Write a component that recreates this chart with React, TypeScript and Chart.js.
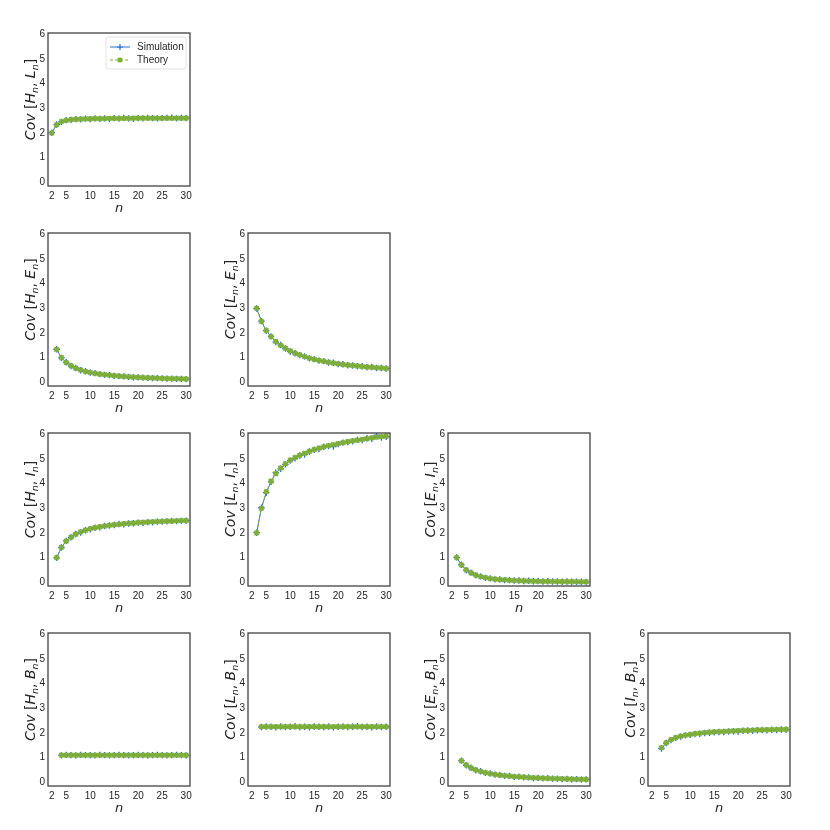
import React, { useEffect, useRef } from "react";
import { Chart, registerables } from "chart.js";

Chart.register(...registerables);

const SIM_COLOR = "#2c72d1";
const THEORY_COLOR = "#7fae36";
const TEXT_COLOR = "#262626";

const X_TICKS = [2, 5, 10, 15, 20, 25, 30];
const Y_TICKS = [0, 1, 2, 3, 4, 5, 6];

const nFrom2 = [2, 3, 4, 5, 6, 7, 8, 9, 10, 11, 12, 13, 14, 15, 16, 17, 18, 19, 20, 21, 22, 23, 24, 25, 26, 27, 28, 29, 30];
const nFrom3 = [3, 4, 5, 6, 7, 8, 9, 10, 11, 12, 13, 14, 15, 16, 17, 18, 19, 20, 21, 22, 23, 24, 25, 26, 27, 28, 29, 30];
const nFrom4 = [4, 5, 6, 7, 8, 9, 10, 11, 12, 13, 14, 15, 16, 17, 18, 19, 20, 21, 22, 23, 24, 25, 26, 27, 28, 29, 30];

// Cov[H, L]
const hlTheory = [2.0, 2.33, 2.46, 2.51, 2.54, 2.55, 2.56, 2.57, 2.57, 2.58, 2.58, 2.58, 2.59, 2.59, 2.59, 2.59, 2.59, 2.6, 2.6, 2.6, 2.6, 2.6, 2.6, 2.6, 2.6, 2.6, 2.6, 2.6, 2.6];
const hlSim = [2.01, 2.34, 2.45, 2.52, 2.53, 2.56, 2.55, 2.58, 2.56, 2.59, 2.57, 2.59, 2.56, 2.6, 2.58, 2.61, 2.59, 2.57, 2.6, 2.59, 2.61, 2.6, 2.59, 2.6, 2.61, 2.62, 2.59, 2.61, 2.6];
// Cov[H, E]
const heTheory = [1.33, 1.0, 0.8, 0.67, 0.57, 0.5, 0.44, 0.4, 0.36, 0.33, 0.31, 0.29, 0.27, 0.25, 0.235, 0.22, 0.21, 0.2, 0.19, 0.18, 0.174, 0.167, 0.16, 0.154, 0.148, 0.143, 0.138, 0.133];
const heSim = [1.34, 0.99, 0.81, 0.66, 0.58, 0.49, 0.45, 0.39, 0.37, 0.33, 0.3, 0.29, 0.26, 0.25, 0.24, 0.22, 0.2, 0.2, 0.19, 0.18, 0.17, 0.17, 0.16, 0.15, 0.15, 0.14, 0.14, 0.13];
// Cov[L, E]
const leTheory = [3.0, 2.47, 2.1, 1.85, 1.65, 1.5, 1.38, 1.27, 1.18, 1.11, 1.04, 0.98, 0.93, 0.89, 0.85, 0.81, 0.78, 0.75, 0.72, 0.7, 0.68, 0.66, 0.64, 0.62, 0.61, 0.59, 0.58, 0.56];
const leSim = [2.99, 2.48, 2.09, 1.86, 1.63, 1.51, 1.37, 1.25, 1.18, 1.1, 1.05, 0.97, 0.94, 0.88, 0.86, 0.8, 0.79, 0.74, 0.73, 0.69, 0.68, 0.65, 0.65, 0.61, 0.62, 0.58, 0.58, 0.56];
// Cov[H, I]
const hiTheory = [1.0, 1.42, 1.67, 1.83, 1.95, 2.04, 2.11, 2.17, 2.21, 2.25, 2.28, 2.31, 2.33, 2.35, 2.37, 2.39, 2.4, 2.42, 2.43, 2.44, 2.45, 2.46, 2.47, 2.48, 2.48, 2.49, 2.5, 2.5];
const hiSim = [0.99, 1.41, 1.68, 1.82, 1.96, 2.02, 2.11, 2.15, 2.21, 2.23, 2.28, 2.3, 2.32, 2.36, 2.35, 2.38, 2.39, 2.42, 2.41, 2.44, 2.43, 2.46, 2.46, 2.47, 2.49, 2.48, 2.49, 2.5];
// Cov[L, I]
const liTheory = [2.0, 3.0, 3.67, 4.1, 4.4, 4.63, 4.8, 4.95, 5.06, 5.15, 5.23, 5.31, 5.38, 5.44, 5.49, 5.54, 5.58, 5.62, 5.66, 5.7, 5.73, 5.76, 5.79, 5.82, 5.85, 5.88, 5.9, 5.92];
const liSim = [2.01, 3.02, 3.63, 4.07, 4.44, 4.6, 4.78, 4.93, 5.02, 5.14, 5.18, 5.3, 5.37, 5.4, 5.49, 5.52, 5.5, 5.6, 5.66, 5.68, 5.71, 5.77, 5.76, 5.84, 5.82, 5.96, 5.87, 5.9];
// Cov[E, I]
const eiTheory = [1.0, 0.7, 0.5, 0.38, 0.29, 0.23, 0.19, 0.15, 0.13, 0.11, 0.1, 0.085, 0.075, 0.066, 0.058, 0.052, 0.047, 0.042, 0.038, 0.035, 0.032, 0.029, 0.027, 0.025, 0.023, 0.021, 0.02, 0.018];
const eiSim = [1.01, 0.71, 0.49, 0.39, 0.28, 0.24, 0.18, 0.16, 0.12, 0.12, 0.09, 0.09, 0.07, 0.07, 0.05, 0.06, 0.04, 0.05, 0.03, 0.04, 0.03, 0.03, 0.02, 0.03, 0.02, 0.02, 0.02, 0.01];
// Cov[H, B]
const hbTheory = [1.1, 1.1, 1.1, 1.1, 1.1, 1.1, 1.1, 1.1, 1.1, 1.1, 1.1, 1.1, 1.1, 1.1, 1.1, 1.1, 1.1, 1.1, 1.1, 1.1, 1.1, 1.1, 1.1, 1.1, 1.1, 1.1, 1.1];
const hbSim = [1.09, 1.11, 1.1, 1.09, 1.11, 1.1, 1.1, 1.09, 1.11, 1.1, 1.09, 1.1, 1.11, 1.1, 1.09, 1.1, 1.11, 1.1, 1.09, 1.1, 1.11, 1.1, 1.09, 1.1, 1.11, 1.1, 1.09];
// Cov[L, B]
const lbTheory = [2.25, 2.25, 2.25, 2.25, 2.25, 2.25, 2.25, 2.25, 2.25, 2.25, 2.25, 2.25, 2.25, 2.25, 2.25, 2.25, 2.25, 2.25, 2.25, 2.25, 2.25, 2.25, 2.25, 2.25, 2.25, 2.25, 2.25];
const lbSim = [2.24, 2.26, 2.25, 2.23, 2.26, 2.24, 2.25, 2.27, 2.24, 2.25, 2.23, 2.26, 2.25, 2.24, 2.26, 2.23, 2.25, 2.26, 2.24, 2.25, 2.27, 2.24, 2.25, 2.23, 2.26, 2.24, 2.25];
// Cov[E, B]
const ebTheory = [0.87, 0.7, 0.58, 0.5, 0.44, 0.39, 0.35, 0.32, 0.29, 0.27, 0.25, 0.23, 0.22, 0.21, 0.19, 0.18, 0.175, 0.167, 0.16, 0.152, 0.146, 0.14, 0.135, 0.13, 0.125, 0.12, 0.117];
const ebSim = [0.88, 0.69, 0.59, 0.49, 0.45, 0.38, 0.36, 0.31, 0.3, 0.26, 0.26, 0.22, 0.23, 0.2, 0.2, 0.17, 0.18, 0.16, 0.17, 0.15, 0.15, 0.13, 0.14, 0.12, 0.13, 0.11, 0.12];
// Cov[I, B]
const ibTheory = [1.4, 1.6, 1.73, 1.81, 1.87, 1.91, 1.94, 1.97, 1.99, 2.01, 2.03, 2.04, 2.05, 2.06, 2.07, 2.08, 2.09, 2.1, 2.1, 2.11, 2.12, 2.12, 2.13, 2.13, 2.14, 2.14, 2.15];
const ibSim = [1.37, 1.59, 1.71, 1.8, 1.85, 1.9, 1.92, 1.96, 1.97, 2.0, 2.01, 2.03, 2.04, 2.04, 2.06, 2.07, 2.06, 2.09, 2.1, 2.09, 2.11, 2.12, 2.11, 2.13, 2.12, 2.14, 2.13];

type PanelDef = {
  row: number;
  col: number;
  a: string;
  b: string;
  n: number[];
  sim: number[];
  theory: number[];
  legend?: boolean;
};

const PANELS: PanelDef[] = [
  { row: 0, col: 0, a: "H", b: "L", n: nFrom2, sim: hlSim, theory: hlTheory, legend: true },
  { row: 1, col: 0, a: "H", b: "E", n: nFrom3, sim: heSim, theory: heTheory },
  { row: 1, col: 1, a: "L", b: "E", n: nFrom3, sim: leSim, theory: leTheory },
  { row: 2, col: 0, a: "H", b: "I", n: nFrom3, sim: hiSim, theory: hiTheory },
  { row: 2, col: 1, a: "L", b: "I", n: nFrom3, sim: liSim, theory: liTheory },
  { row: 2, col: 2, a: "E", b: "I", n: nFrom3, sim: eiSim, theory: eiTheory },
  { row: 3, col: 0, a: "H", b: "B", n: nFrom4, sim: hbSim, theory: hbTheory },
  { row: 3, col: 1, a: "L", b: "B", n: nFrom4, sim: lbSim, theory: lbTheory },
  { row: 3, col: 2, a: "E", b: "B", n: nFrom4, sim: ebSim, theory: ebTheory },
  { row: 3, col: 3, a: "I", b: "B", n: nFrom4, sim: ibSim, theory: ibTheory },
];

const TICK_FONT = { family: '"Liberation Sans", Arial, sans-serif', size: 10 };
const MATH_FONT = '"DejaVu Sans", sans-serif';

const framePlugin = {
  id: "frame",
  afterDatasetsDraw(chart: any) {
    const { ctx, chartArea } = chart;
    ctx.save();
    ctx.strokeStyle = "#3a3a3a";
    ctx.lineWidth = 1.25;
    ctx.strokeRect(chartArea.left, chartArea.top, chartArea.right - chartArea.left, chartArea.bottom - chartArea.top);
    ctx.restore();
  },
};

// y-axis label "Cov [A_n, B_n]" drawn with real subscripts, rotated
const yLabelPlugin = {
  id: "yLabel",
  afterDraw(chart: any) {
    const opts = chart.options.plugins.yLabel;
    if (!opts) return;
    const { ctx, chartArea } = chart;
    const big = `italic 14px ${MATH_FONT}`;
    const up = `14px ${MATH_FONT}`;
    const sub = `italic 9.5px ${MATH_FONT}`;
    const parts = [
      { t: "Cov", f: big, dy: 0 },
      { t: " ", f: up, dy: 0 },
      { t: "[", f: up, dy: 0 },
      { t: opts.a, f: big, dy: 0 },
      { t: "n", f: sub, dy: 2.5 },
      { t: ",", f: up, dy: 0 },
      { t: " ", f: up, dy: 0 },
      { t: opts.b, f: big, dy: 0 },
      { t: "n", f: sub, dy: 2.5 },
      { t: "]", f: up, dy: 0 },
    ];
    ctx.save();
    ctx.fillStyle = TEXT_COLOR;
    ctx.textBaseline = "alphabetic";
    ctx.textAlign = "left";
    let total = 0;
    const widths = parts.map((p) => {
      ctx.font = p.f;
      const w = ctx.measureText(p.t).width;
      total += w;
      return w;
    });
    const cy = (chartArea.top + chartArea.bottom) / 2 - 10;
    ctx.translate(31, cy);
    ctx.rotate(-Math.PI / 2);
    let x = -total / 2;
    parts.forEach((p, i) => {
      ctx.font = p.f;
      ctx.fillText(p.t, x, 4 + p.dy);
      x += widths[i];
    });
    ctx.restore();
  },
};

const legendPlugin = {
  id: "customLegend",
  afterDraw(chart: any) {
    const opts = chart.options.plugins.customLegend;
    if (!opts || !opts.show) return;
    const { ctx } = chart;
    const x0 = 106, y0 = 37, w = 80, h = 32;
    ctx.save();
    ctx.beginPath();
    if (ctx.roundRect) ctx.roundRect(x0, y0, w, h, 2);
    else ctx.rect(x0, y0, w, h);
    ctx.fillStyle = "rgba(255,255,255,0.85)";
    ctx.fill();
    ctx.strokeStyle = "#e3e3e3";
    ctx.lineWidth = 1;
    ctx.stroke();

    const items = [
      { label: "Simulation", color: SIM_COLOR, dash: [] as number[], marker: "cross", y: 47 },
      { label: "Theory", color: THEORY_COLOR, dash: [3, 2], marker: "rect", y: 60 },
    ];
    for (const it of items) {
      ctx.beginPath();
      ctx.setLineDash(it.dash);
      ctx.strokeStyle = it.color;
      ctx.lineWidth = 1;
      ctx.moveTo(110, it.y);
      ctx.lineTo(130, it.y);
      ctx.stroke();
      ctx.setLineDash([]);
      if (it.marker === "cross") {
        ctx.beginPath();
        ctx.lineWidth = 1.2;
        ctx.moveTo(117, it.y);
        ctx.lineTo(123, it.y);
        ctx.moveTo(120, it.y - 3);
        ctx.lineTo(120, it.y + 3);
        ctx.stroke();
      } else {
        ctx.fillStyle = it.color;
        ctx.fillRect(117.7, it.y - 2.3, 4.6, 4.6);
      }
      ctx.fillStyle = TEXT_COLOR;
      ctx.font = `10px ${TICK_FONT.family}`;
      ctx.textBaseline = "middle";
      ctx.textAlign = "left";
      ctx.fillText(it.label, 137, it.y);
    }
    ctx.restore();
  },
};

function Panel({ p }: { p: PanelDef }) {
  const ref = useRef<HTMLCanvasElement>(null);
  useEffect(() => {
    if (!ref.current) return;
    const chart = new Chart(ref.current, {
      type: "line",
      data: {
        datasets: [
          {
            label: "Simulation",
            data: p.n.map((x, i) => ({ x, y: p.sim[i] })),
            borderColor: SIM_COLOR,
            backgroundColor: SIM_COLOR,
            borderWidth: 1,
            pointStyle: "cross",
            pointRadius: 3.2,
            pointBorderWidth: 1.3,
            pointBorderColor: SIM_COLOR,
            order: 2,
          },
          {
            label: "Theory",
            data: p.n.map((x, i) => ({ x, y: p.theory[i] })),
            borderColor: THEORY_COLOR,
            backgroundColor: THEORY_COLOR,
            borderWidth: 1,
            borderDash: [3, 2],
            pointStyle: "rect",
            pointRadius: 3.1,
            pointBorderWidth: 0.5,
            pointBorderColor: THEORY_COLOR,
            pointBackgroundColor: THEORY_COLOR,
            order: 1,
          },
        ],
      },
      options: {
        responsive: false,
        animation: false,
        devicePixelRatio: 1,
        layout: { padding: { left: 0, right: 10, top: 33, bottom: 14 }, autoPadding: false },
        plugins: {
          legend: { display: false },
          tooltip: { enabled: false },
          customLegend: { show: !!p.legend },
          yLabel: { a: p.a, b: p.b },
        } as any,
        scales: {
          x: {
            type: "linear",
            min: 1.2,
            max: 30.8,
            afterBuildTicks: (s: any) => {
              s.ticks = X_TICKS.map((v) => ({ value: v }));
            },
            afterFit: (s: any) => {
              s.height = 30;
            },
            grid: { display: false, drawTicks: false },
            border: { display: false },
            ticks: {
              padding: 4,
              autoSkip: false,
              maxRotation: 0,
              font: TICK_FONT,
              color: TEXT_COLOR,
              callback: (v: any) => String(v),
            },
            title: {
              display: true,
              text: "n",
              color: TEXT_COLOR,
              font: { family: MATH_FONT, size: 13, style: "italic" },
              padding: { top: 0, bottom: 0 },
            },
          },
          y: {
            type: "linear",
            min: -0.15,
            max: 6.05,
            afterBuildTicks: (s: any) => {
              s.ticks = Y_TICKS.map((v) => ({ value: v }));
            },
            afterFit: (s: any) => {
              s.width = 48;
            },
            grid: { display: false, drawTicks: false },
            border: { display: false },
            ticks: {
              padding: 3,
              autoSkip: false,
              font: TICK_FONT,
              color: TEXT_COLOR,
              callback: (v: any) => String(v),
            },
            title: { display: false },
          },
        },
      } as any,
      plugins: [framePlugin, yLabelPlugin, legendPlugin],
    });
    return () => chart.destroy();
  }, [p]);
  return (
    <canvas
      ref={ref}
      width={200}
      height={230}
      style={{ position: "absolute", left: p.col * 200, top: p.row * 200, width: 200, height: 230 }}
    />
  );
}

export default function App() {
  return (
    <div style={{ position: "absolute", left: 0, top: 0, width: 830, height: 830, background: "#ffffff" }}>
      {PANELS.map((p, i) => (
        <Panel key={i} p={p} />
      ))}
    </div>
  );
}
